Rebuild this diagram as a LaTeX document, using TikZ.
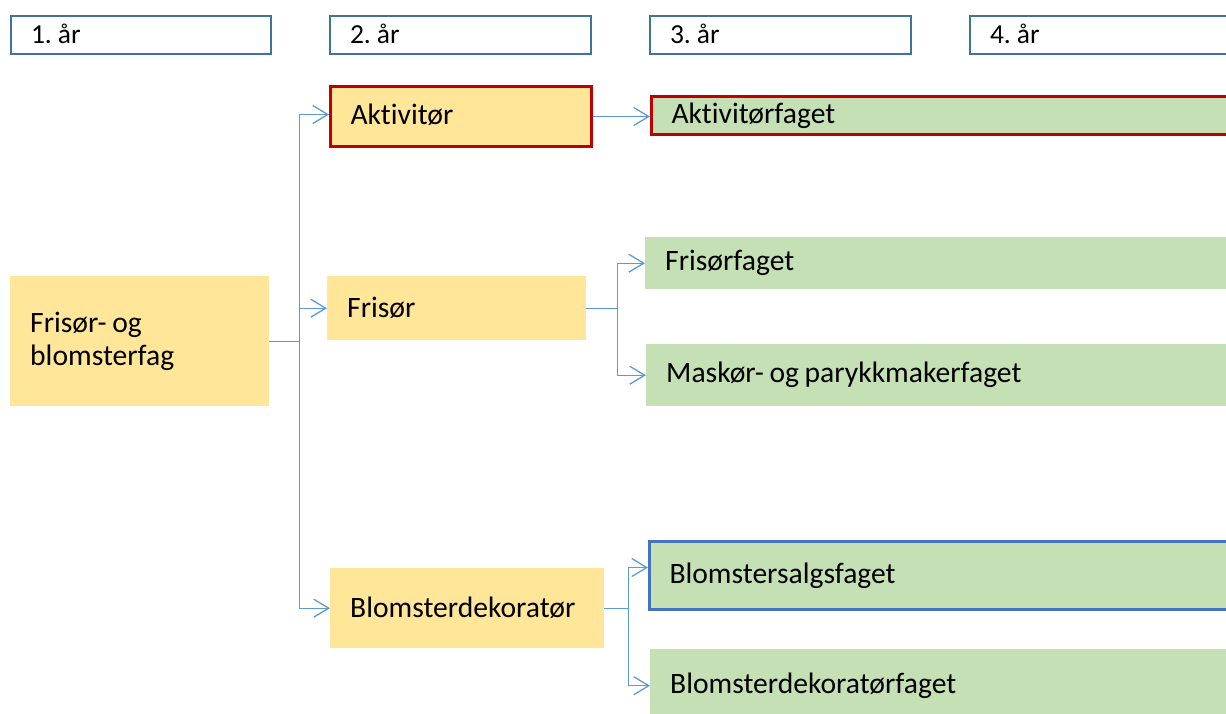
\documentclass[tikz,border=0pt]{standalone}
\usepackage{fontspec}
\setmainfont{Carlito}[RawFeature=-liga]
\frenchspacing
\usetikzlibrary{arrows.meta,calc}
\definecolor{hdr}{HTML}{41719C}
\definecolor{yel}{HTML}{FFE699}
\definecolor{grn}{HTML}{C5E0B4}
\definecolor{redb}{HTML}{C00000}
\definecolor{blub}{HTML}{4472C4}
\definecolor{conn}{HTML}{5B9BD5}
\begin{document}
\begin{tikzpicture}[x=1pt,y=-1pt,
  base/.style={rectangle, anchor=north west, inner xsep=20pt, inner ysep=0pt, align=left, font=\fontsize{29.6}{33}\selectfont, execute at begin node={\spaceskip=0.19em\relax}},
  hdrbox/.style={base, draw=hdr, line width=2pt, fill=white, minimum height=38pt, text depth=3pt, font=\fontsize{27.5}{30}\selectfont, execute at begin node={\spaceskip=0.22em\relax}},
  ybox/.style={base, fill=yel},
  gbox/.style={base, fill=grn},
  redline/.style={draw=redb, line width=3pt},
  blueline/.style={draw=blub, line width=3pt},
  link/.style={draw=conn, line width=1.3pt, -{Straight Barb[length=15pt,width=18pt,line width=1.3pt]}},
  plainlink/.style={draw=conn, line width=1.3pt}
]
\useasboundingbox (0,0) rectangle (1226,713);
\clip (0,0) rectangle (1226,713);
\fill[white] (0,0) rectangle (1226,713);

% headers
\node[hdrbox, minimum width=260pt, text width=220pt] (h1) at (10,15) {1. år};
\node[hdrbox, minimum width=261pt, text width=221pt] (h2) at (329,15) {2. år};
\node[hdrbox, minimum width=261pt, text width=221pt] (h3) at (649,15) {3. år};
\node[hdrbox, minimum width=290pt, text width=250pt] (h4) at (969,15) {4. år};

% year 1
\node[ybox, minimum width=259pt, minimum height=130pt, text width=219pt] (fb) at (10,276) {Frisør- og\\blomsterfag};

% year 2
\node[ybox, redline, minimum width=261pt, minimum height=60pt, text width=221pt, text depth=4pt] (akt) at (329,85) {Aktivitør};
\node[ybox, minimum width=259pt, minimum height=64pt, text width=219pt] (fris) at (327,276) {Frisør};
\node[ybox, minimum width=274pt, minimum height=80pt, text width=234pt] (bd) at (330,568) {Blomsterdekoratør};

% year 3
\node[gbox, redline, minimum width=600pt, minimum height=38pt, text width=560pt] (aktf) at (650,95) {Aktivitørfaget};
\node[gbox, minimum width=600pt, minimum height=52pt, text width=560pt] (frf) at (645,237) {Frisørfaget};
\node[gbox, minimum width=600pt, minimum height=62pt, text width=560pt] (mask) at (646,344) {Maskør- og parykkmakerfaget};
\node[gbox, blueline, minimum width=600pt, minimum height=68pt, text width=560pt] (bsf) at (648,540) {Blomstersalgsfaget};
\node[gbox, minimum width=600pt, minimum height=73pt, text width=560pt] (bdf) at (650,649) {Blomsterdekoratørfaget};

% connectors
\draw[plainlink] (fb.east) -- ++(30,0) coordinate (tr1);
\draw[link] (tr1) |- ($(akt.west)+(0,-2)$);
\draw[link] (tr1) |- (fris.west);
\draw[link] (tr1) |- (bd.west);

\draw[link] (akt.east) -- (akt.east -| aktf.west);

\draw[plainlink] (fris.east) -- ++(31,0) coordinate (tr2);
\draw[link] (tr2) |- (frf.west);
\draw[link] (tr2) |- (mask.west);

\draw[plainlink] (bd.east) -- ++(24,0) coordinate (tr3);
\draw[link] (tr3) |- ($(bsf.west)+(0,-8)$);
\draw[link] (tr3) |- (bdf.west);
\end{tikzpicture}
\end{document}
